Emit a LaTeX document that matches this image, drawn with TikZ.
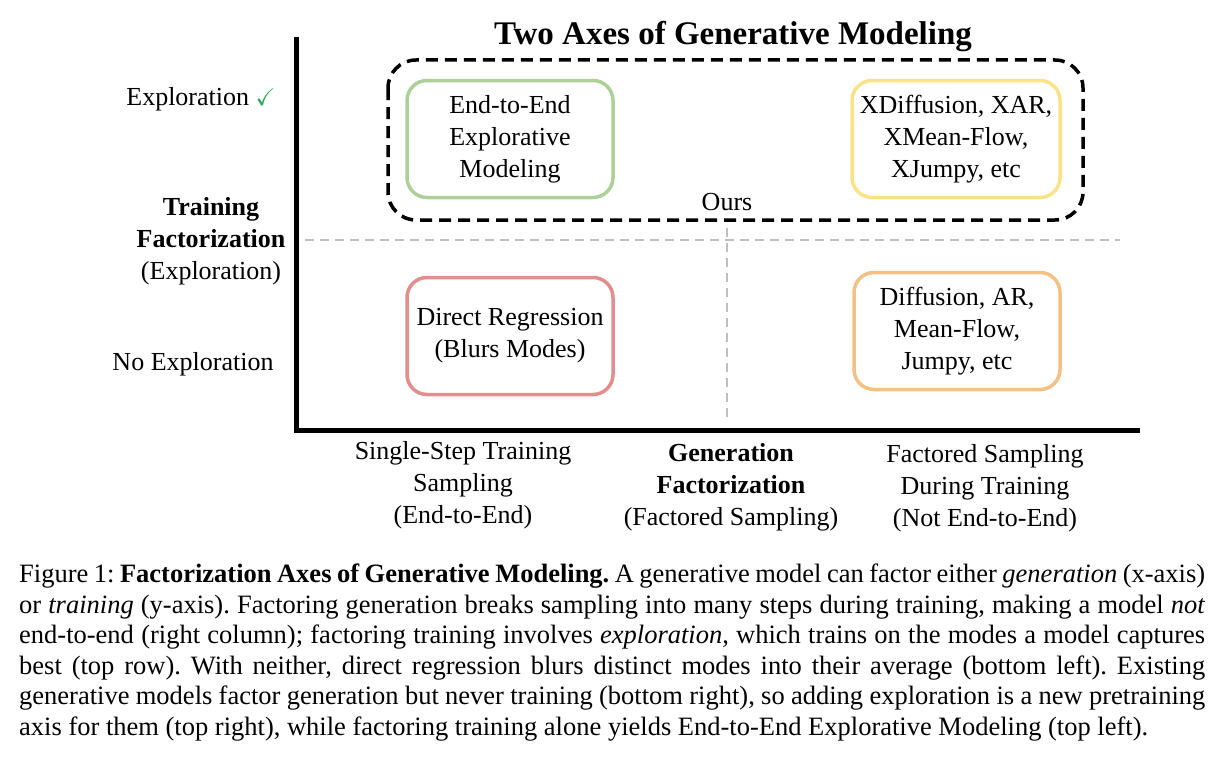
\documentclass[tikz,border=0pt]{standalone}
\usepackage{fontspec}
\setmainfont{Liberation Serif}
\usepackage{amssymb}
\begin{document}
\frenchspacing
\definecolor{gbox}{RGB}{172,208,152}
\definecolor{ybox}{RGB}{250,226,135}
\definecolor{rbox}{RGB}{226,142,142}
\definecolor{obox}{RGB}{244,192,134}
\definecolor{chk}{RGB}{40,170,90}
\begin{tikzpicture}[x=1pt,y=-1pt,
  box/.style={draw,line width=3.5pt,rounded corners=20pt,align=center},
  lbl/.style={font=\fontsize{26}{32}\selectfont,align=center,inner sep=0pt},
  gdash/.style={draw=gray!50,line width=2.5pt,dash pattern=on 9pt off 6pt}]
\useasboundingbox (0,0) rectangle (1220,760);
\node[font=\bfseries\fontsize{33}{36}\selectfont] (title) at (733,37) {Two Axes of Generative Modeling};
\coordinate (yt) at (296,37); \coordinate (o) at (296,430); \coordinate (xr) at (1140,430);
\draw[line width=5pt] (yt) -- (o) -- (xr);
\coordinate (h1) at (305,240); \coordinate (h2) at (1120,240);
\coordinate (v1) at (727,228); \coordinate (v2) at (727,418);
\draw[gdash] (h1) -- (h2);
\draw[gdash] (v1) -- (v2);
\draw[line width=3.5pt,dash pattern=on 12pt off 7pt,rounded corners=28pt] (388,60) rectangle (1083,220);
\node[box,draw=gbox,minimum width=206pt,minimum height=117pt,lbl] (g) at (510,139) {End-to-End\\Explorative\\Modeling};
\node[box,draw=ybox,minimum width=208pt,minimum height=117pt,lbl] (y) at (956,139) {XDiffusion, XAR,\\XMean-Flow,\\XJumpy, etc};
\node[box,draw=rbox,minimum width=206pt,minimum height=117pt,lbl] (r) at (510,336) {Direct Regression\\(Blurs Modes)};
\node[box,draw=obox,minimum width=206pt,minimum height=117pt,lbl] (or) at (957,331) {Diffusion, AR,\\Mean-Flow,\\Jumpy, etc};
\node[lbl] (ours) at (727,202) {Ours};
\node[lbl] (ex) at (201,99) {Exploration \textcolor{chk}{\fontsize{24}{24}\selectfont\boldmath$\checkmark$}};
\node[lbl] (tf) at (211,241) {\textbf{Training}\\\textbf{Factorization}\\(Exploration)};
\node[lbl] (ne) at (193,364) {No Exploration};
\node[lbl] (c1) at (463,485) {Single-Step Training\\Sampling\\(End-to-End)};
\node[lbl] (c2) at (731,487) {\textbf{Generation}\\\textbf{Factorization}\\(Factored Sampling)};
\node[lbl] (c3) at (985,488) {Factored Sampling\\During Training\\(Not End-to-End)};
\node[anchor=north west,inner sep=0pt,text width=1186pt,align=justify,font=\fontsize{26.5}{30.5}\selectfont] (cap) at (19,564) {Figure 1: \textbf{Factorization Axes of Generative Modeling.} A generative model can factor either \textit{generation} (x-axis)\linebreak
or \textit{training} (y-axis). Factoring generation breaks sampling into many steps during training, making a model \textit{not}\linebreak
end-to-end (right column); factoring training involves \textit{exploration}, which trains on the modes a model captures\linebreak
best (top row). With neither, direct regression blurs distinct modes into their average (bottom left). Existing\linebreak
generative models factor generation but never training (bottom right), so adding exploration is a new pretraining\linebreak
axis for them (top right), while factoring training alone yields End-to-End Explorative Modeling (top left).\par};
\end{tikzpicture}
\end{document}
